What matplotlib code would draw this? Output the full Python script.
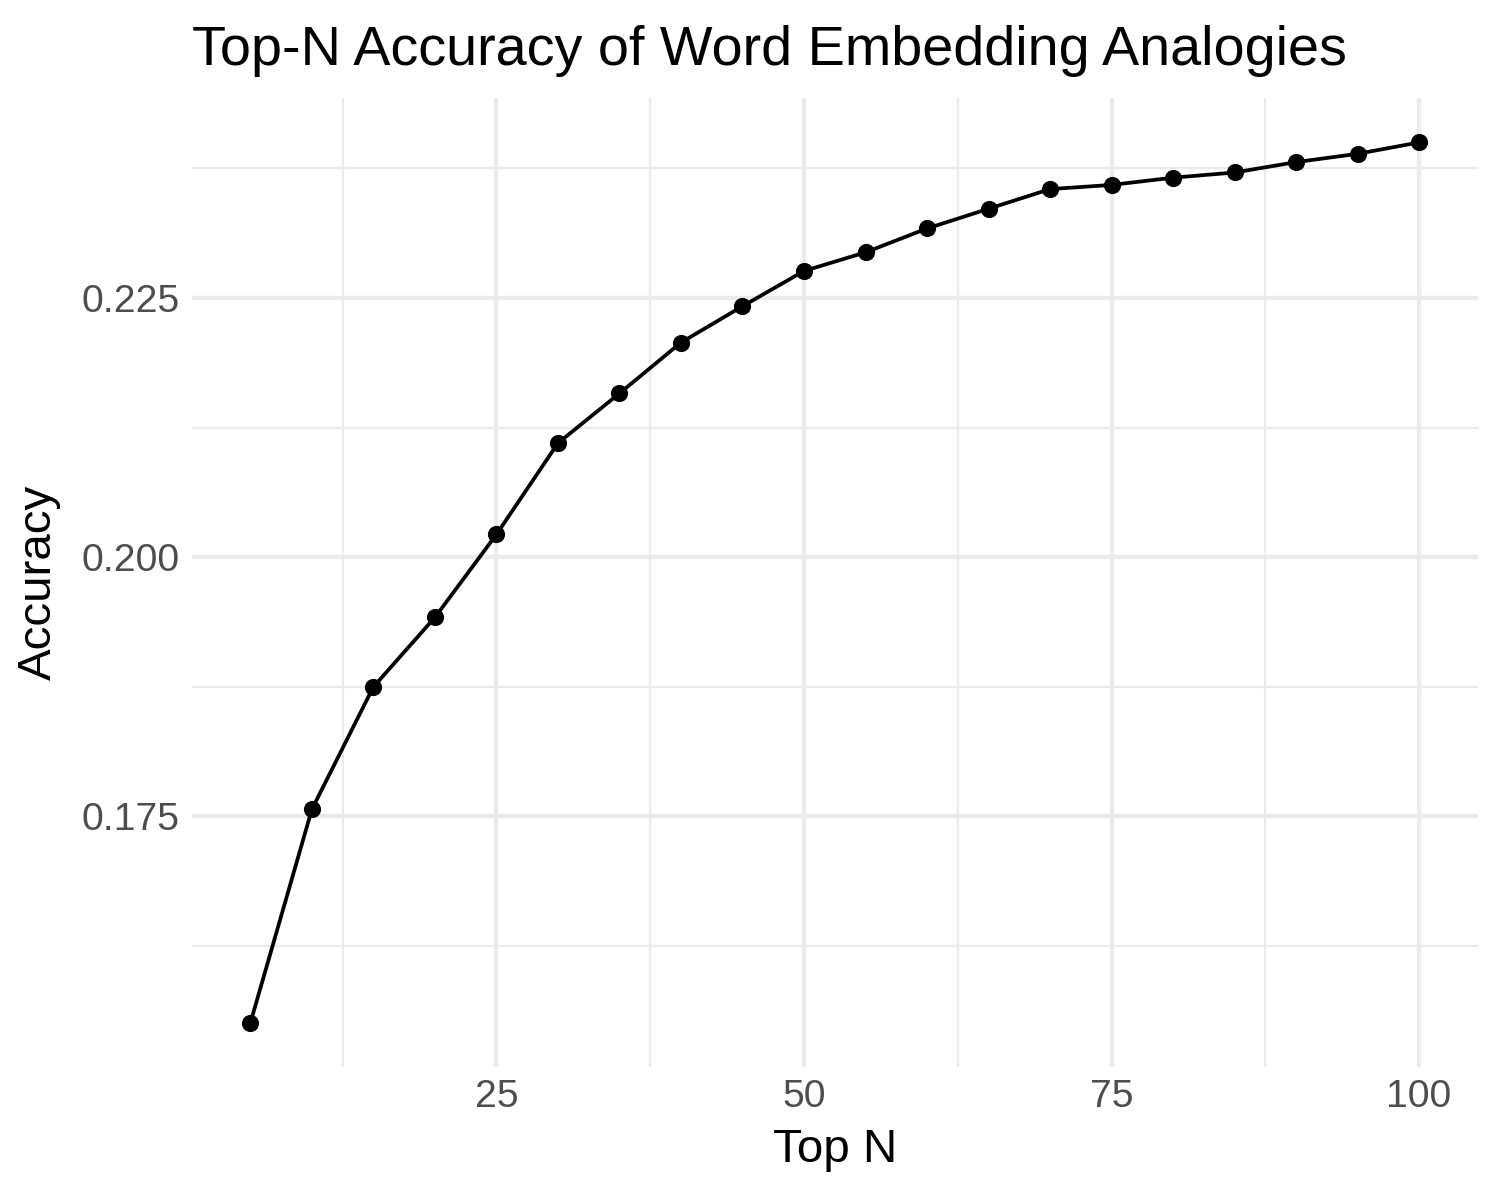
import matplotlib
matplotlib.use('Agg')
import matplotlib.pyplot as plt
from matplotlib.ticker import MultipleLocator

# values
top_n = [5, 10, 15, 20, 25, 30, 35, 40, 45, 50, 55, 60, 65, 70, 75, 80, 85, 90, 95, 100]
accuracy = [0.1551, 0.1757, 0.1875, 0.1942, 0.2022, 0.2110, 0.2158, 0.2207, 0.2242, 0.2276,
            0.2294, 0.2317, 0.2336, 0.2355, 0.2359, 0.2366, 0.2371, 0.2381, 0.2389, 0.2400]

plt.rcParams['font.family'] = ['Liberation Sans', 'DejaVu Sans']

fig = plt.figure(figsize=(5, 4), dpi=300)
ax = fig.add_axes([0.128, 0.111, 0.857, 0.807])

ax.plot(top_n, accuracy, color='black', linewidth=0.9, zorder=3)
ax.scatter(top_n, accuracy, color='black', s=17, zorder=4, linewidths=0)

# ggplot-style 5% expansion
xr = max(top_n) - min(top_n)
yr = max(accuracy) - min(accuracy)
ax.set_xlim(min(top_n) - 0.05 * xr, max(top_n) + 0.05 * xr)
ax.set_ylim(min(accuracy) - 0.05 * yr, max(accuracy) + 0.05 * yr)

ax.xaxis.set_minor_locator(MultipleLocator(12.5))
ax.yaxis.set_minor_locator(MultipleLocator(0.0125))
ax.set_xticks([25, 50, 75, 100])
ax.set_xticklabels(['25', '50', '75', '100'])
ax.set_yticks([0.175, 0.2, 0.225])
ax.set_yticklabels(['0.175', '0.200', '0.225'])

ax.grid(which='major', color='#EBEBEB', linewidth=1.05)
ax.grid(which='minor', color='#EBEBEB', linewidth=0.55)
ax.set_axisbelow(True)
for s in ax.spines.values():
    s.set_visible(False)
ax.tick_params(which='both', length=0)
ax.tick_params(axis='both', labelsize=9.4, labelcolor='#4D4D4D', pad=3)

ax.set_xlabel('Top N', fontsize=11.4, labelpad=3)
ax.set_ylabel('Accuracy', fontsize=11.4, labelpad=5)
ax.set_title('Top-N Accuracy of Word Embedding Analogies', fontsize=13.4, loc='left', pad=8)

fig.savefig('out.png', dpi=300, facecolor='white')
